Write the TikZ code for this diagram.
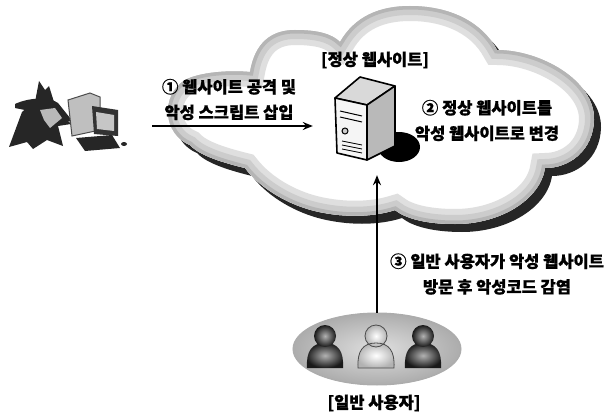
\documentclass[tikz,border=0pt]{standalone}
\usepackage{fontspec}
\setmainfont{Noto Sans CJK KR}[BoldFont={Noto Sans CJK KR Black}, BoldFeatures={FakeBold=0.8}]
\usepackage{tikz}
\usetikzlibrary{arrows.meta, positioning, shapes.geometric}

% outline of the cloud, in pixel units (y grows downwards)
\newcommand{\cloudpath}{(250,72) .. controls (255,42) and (272,30) .. (295,30)
  .. controls (318,30) and (332,34) .. (340,42)
  .. controls (355,16) and (380,6) .. (410,6)
  .. controls (450,6) and (482,22) .. (497,50)
  .. controls (540,50) and (595,80) .. (594,120)
  .. controls (593,150) and (570,168) .. (545,168)
  .. controls (540,200) and (500,224) .. (455,224)
  .. controls (425,224) and (405,218) .. (395,210)
  .. controls (370,218) and (340,217) .. (315,211)
  .. controls (290,205) and (262,190) .. (245,168)
  .. controls (225,163) and (200,156) .. (190,145)
  .. controls (163,134) and (160,96) .. (185,80)
  .. controls (200,72) and (230,70) .. (250,72) -- cycle}

\begin{document}
\begin{tikzpicture}[
    x=1pt, y=-1pt,
    txt/.style={font=\fontsize{16.5}{25.5}\selectfont\bfseries, align=center, inner sep=0pt},
    flow/.style={draw=black, line width=2.6pt, -{Stealth[length=10pt, width=8pt]}},
    iconbox/.style={inner sep=0pt, minimum width=#1, minimum height=90pt},
    edge/.style={draw=black, line width=1.6pt, line join=round},
    darkman/.style={inner color=gray!60, outer color=black!90},
    lightman/.style={inner color=white, outer color=gray!60}
]
\useasboundingbox (0,0) rectangle (611,412);

% Cloud with shadow and soft grey rim
\fill[black!85, shift={(7,8)}] \cloudpath;
\begin{scope}
  \clip \cloudpath;
  \fill[white] \cloudpath;
  \draw[gray!25, line width=30pt] \cloudpath;
  \draw[gray!40, line width=18pt] \cloudpath;
  \draw[gray!58, line width=7pt] \cloudpath;
\end{scope}

% Nodes
\node[iconbox=120pt] (hacker) at (64,126) {};
\node[iconbox=86pt] (websrv) at (377,126) {};
\node[ellipse, minimum width=168pt, minimum height=72pt, inner sep=0pt,
      draw=gray!65, line width=1pt, shade, inner color=gray!25, outer color=gray!65] (users) at (377,349) {};

\node[txt] (sitename) at (375,60) {[정상 웹사이트]};
\node[txt] (userlabel) at (374,403) {[일반 사용자]};
\node[txt] (stepA) at (229,99.5) {① 웹사이트 공격 및\\악성 스크립트 삽입};
\node[txt] (stepB) at (487,120.5) {② 정상 웹사이트를\\악성 웹사이트로 변경};
\node[txt] (stepC) at (497,274) {③ 일반 사용자가 악성 웹사이트\\방문 후 악성코드 감염};

% attacker at the computer
\fill[black!85] (36,100) -- (22,112) -- (9,147) -- (27,142) -- (33,149) -- (47,140)
  -- (63,146) -- (58,126) -- (71,124) -- (60,112) -- (53,100) -- cycle;
\fill[black!85] (35,102) -- (39,81) -- (45,90) -- (49,86) -- (54,102) -- cycle;
\fill[black!85] (15,104) .. controls (30,97) and (50,97) .. (58,103) -- (74,123)
  .. controls (55,116) and (35,112) .. (15,108) -- cycle;
\fill[gray!55] (40,110) -- (55,108) -- (62,118) -- (50,128) -- (44,120) -- cycle;
\filldraw[fill=gray!50, draw=black!70, line width=1pt] (68,100) -- (90,93) -- (100,97)
  -- (100,130) -- (72,136) -- cycle;
\fill[black!80] (92,106) -- (118,110) -- (118,136) -- (94,134) -- cycle;
\fill[gray!45] (96,112) -- (114,115) -- (114,131) -- (97,129) -- cycle;
\fill[black!85] (76,138) -- (112,135) -- (120,148) -- (85,151) -- cycle;
\fill[black!85] (124,144) ellipse (3 and 2);

% web server box
\fill[black] (399,147) ellipse (21 and 15);
\filldraw[edge, fill=gray!30] (335,98) -- (360,77) -- (395,86) -- (367,105) -- cycle;
\filldraw[edge, fill=gray!55] (367,105) -- (395,86) -- (395,146) -- (367,160) -- cycle;
\filldraw[edge, fill=gray!8] (335,98) -- (367,105) -- (367,160) -- (337,153) -- cycle;
\draw[black, line width=1pt] (340,111) -- (362,116) (340,117) -- (362,122);
\filldraw[fill=gray!40, draw=black, line width=1pt] (345,131) circle (3);
\draw[black, line width=0.8pt] (342,141) -- (362,145) (342,145) -- (362,149) (342,149) -- (362,153);

% general users
\foreach \cx/\sty in {325/darkman, 376/lightman, 423/darkman} {
  \shade[\sty] (\cx-18,368) .. controls (\cx-19,351) and (\cx-13,343) .. (\cx,343)
    .. controls (\cx+13,343) and (\cx+19,351) .. (\cx+18,368) -- cycle;
  \shade[\sty] (\cx,336) circle (11);
}
\draw[black!70, line width=0.8pt] (358,368) .. controls (357,351) and (363,343) .. (376,343)
  .. controls (389,343) and (395,351) .. (394,368) -- cycle;
\draw[black!70, line width=0.8pt] (376,336) circle (11);

% Arrows
\draw[flow, shorten <=28pt, shorten >=21pt] (hacker) -- (websrv);
\draw[flow, shorten >=4pt] (users) -- (websrv);

\end{tikzpicture}
\end{document}
